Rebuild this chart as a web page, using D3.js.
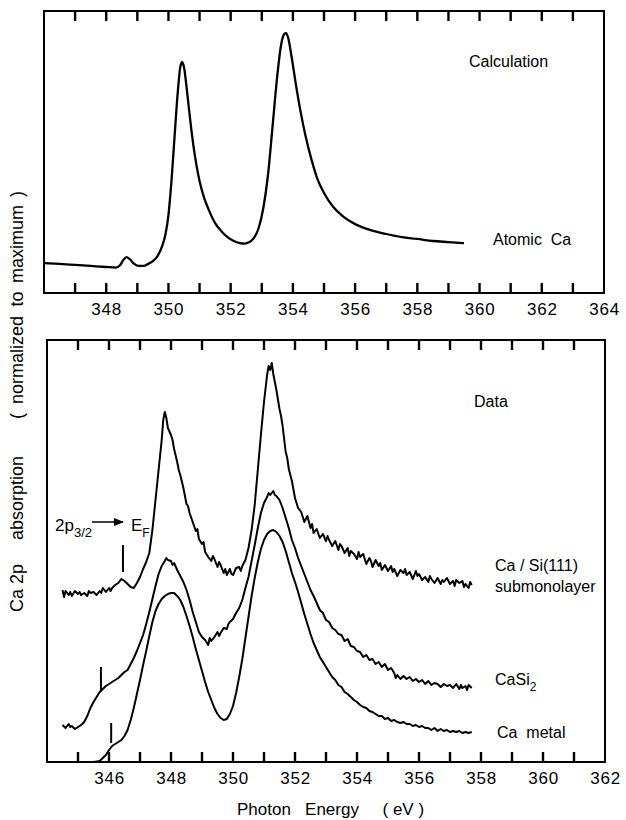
<!DOCTYPE html>
<html>
<head>
<meta charset="utf-8">
<script src="https://cdn.jsdelivr.net/npm/d3@7"></script>
<style>
  body { margin: 0; background: #fff; }
  svg { font-family: "Liberation Sans", Arial, Helvetica, sans-serif; }
  text { white-space: pre; }
</style>
</head>
<body>
<svg width="626" height="820"></svg>
<script>
// Calculation, atomic Ca (normalized to maximum = 100)
const calcCurve = [
  [346.0, 11.5], [346.5, 11.2], [347.0, 10.8], [347.5, 10.4], [348.0, 10.0], [348.3, 9.8],
  [348.45, 10.8], [348.55, 12.7], [348.65, 13.8], [348.75, 13.1], [348.9, 11.2], [349.05, 10.4],
  [349.2, 10.4], [349.35, 11.2], [349.5, 12.3], [349.65, 14.2], [349.8, 18.1], [349.9, 22.3],
  [350.0, 30.0], [350.1, 43.5], [350.2, 60.8], [350.3, 77.3], [350.38, 86.9], [350.44, 88.8],
  [350.5, 86.9], [350.6, 77.3], [350.7, 66.5], [350.8, 56.9], [350.9, 49.2], [351.0, 43.1],
  [351.15, 36.5], [351.3, 31.9], [351.5, 26.9], [351.7, 23.8], [351.9, 21.5], [352.1, 20.0],
  [352.3, 19.2], [352.45, 19.0], [352.6, 19.6], [352.75, 21.2], [352.9, 25.0], [353.05, 32.7],
  [353.2, 45.4], [353.35, 64.6], [353.5, 83.8], [353.62, 95.4], [353.72, 99.6], [353.78, 100],
  [353.85, 98.1], [353.95, 91.5], [354.1, 80.0], [354.25, 69.6], [354.4, 60.8], [354.6, 51.2],
  [354.8, 43.5], [355.0, 38.5], [355.3, 33.1], [355.6, 29.6], [356.0, 26.5], [356.5, 24.2],
  [357.0, 22.7], [357.5, 21.5], [358.0, 20.8], [358.5, 20.0], [359.0, 19.6], [359.5, 19.2]
];

// Data: Ca / Si(111) submonolayer
const caSiSub = [
  [344.5, 43.0], [344.55, 41.25], [344.6, 42.75], [344.7, 41.75], [344.75, 42.5], [344.8, 41.5],
  [344.9, 42.75], [345.0, 42.0], [345.05, 42.5], [345.1, 41.75], [345.2, 42.25], [345.3, 41.5],
  [345.35, 42.75], [345.4, 42.25], [345.5, 42.5], [345.6, 41.75], [345.7, 42.75], [345.75, 42.25],
  [345.8, 43.5], [345.9, 42.5], [346.0, 43.5], [346.05, 42.75], [346.1, 43.5], [346.2, 44.25],
  [346.3, 44.75], [346.4, 45.75], [346.5, 45.25], [346.6, 44.5], [346.7, 43.75], [346.8, 43.5],
  [346.9, 44.75], [347.0, 46.25], [347.1, 48.25], [347.2, 50.0], [347.3, 52.25], [347.4, 58.0],
  [347.5, 65.5], [347.6, 73.0], [347.7, 80.5], [347.75, 85.5], [347.8, 87.5], [347.85, 86.0],
  [347.9, 83.5], [348.0, 81.75], [348.05, 80.5], [348.1, 78.25], [348.2, 75.0], [348.25, 73.0],
  [348.3, 71.75], [348.4, 68.5], [348.5, 64.5], [348.55, 64.0], [348.6, 62.25], [348.7, 60.0],
  [348.8, 57.75], [348.85, 58.25], [348.9, 55.75], [349.0, 54.5], [349.05, 55.0], [349.1, 52.5],
  [349.2, 51.25], [349.3, 50.25], [349.35, 51.5], [349.4, 50.75], [349.5, 48.75], [349.55, 50.0],
  [349.6, 49.25], [349.7, 47.25], [349.75, 48.25], [349.8, 46.75], [349.9, 48.25], [349.95, 47.0],
  [350.0, 46.75], [350.1, 48.5], [350.2, 48.75], [350.25, 47.75], [350.3, 49.0], [350.4, 50.5],
  [350.5, 53.5], [350.6, 58.0], [350.7, 64.25], [350.8, 73.0], [350.9, 81.75], [351.0, 90.0],
  [351.1, 96.75], [351.15, 99.0], [351.2, 98.0], [351.25, 99.75], [351.3, 97.0], [351.4, 93.0],
  [351.5, 88.25], [351.55, 86.5], [351.6, 84.0], [351.7, 77.5], [351.75, 76.0], [351.8, 73.25],
  [351.9, 70.25], [352.0, 66.0], [352.1, 63.5], [352.2, 62.5], [352.3, 60.0], [352.4, 61.5],
  [352.5, 58.5], [352.55, 59.5], [352.6, 57.25], [352.7, 58.25], [352.8, 56.0], [352.9, 57.0],
  [353.0, 55.25], [353.05, 56.5], [353.1, 55.5], [353.2, 54.0], [353.3, 55.25], [353.4, 53.0],
  [353.45, 54.5], [353.5, 54.0], [353.6, 52.25], [353.7, 53.5], [353.75, 51.5], [353.8, 52.75],
  [353.9, 52.0], [354.0, 50.75], [354.05, 52.5], [354.1, 51.25], [354.2, 52.0], [354.3, 49.5],
  [354.4, 51.0], [354.45, 50.25], [354.5, 48.75], [354.6, 50.5], [354.7, 49.0], [354.75, 49.75],
  [354.8, 48.0], [354.9, 49.25], [355.0, 47.75], [355.1, 49.0], [355.15, 47.5], [355.2, 48.25],
  [355.3, 46.5], [355.4, 48.0], [355.5, 47.25], [355.55, 48.25], [355.6, 46.75], [355.7, 47.5],
  [355.8, 45.75], [355.9, 47.75], [355.95, 46.5], [356.0, 47.0], [356.1, 45.5], [356.2, 46.25],
  [356.3, 45.0], [356.35, 46.5], [356.4, 45.75], [356.5, 44.75], [356.6, 46.0], [356.7, 44.5],
  [356.75, 45.5], [356.8, 45.0], [356.9, 46.0], [357.0, 44.5], [357.1, 45.25], [357.15, 44.0],
  [357.2, 45.5], [357.3, 44.75], [357.4, 45.25], [357.45, 43.75], [357.5, 44.5], [357.6, 43.5],
  [357.65, 45.0], [357.7, 44.25]
];

// Data: CaSi2
const caSi2 = [
  [344.5, 9.25], [344.6, 8.5], [344.7, 9.5], [344.75, 8.75], [344.8, 9.0], [344.9, 8.25],
  [345.0, 8.75], [345.1, 9.25], [345.2, 10.0], [345.3, 11.5], [345.4, 13.5], [345.5, 15.0],
  [345.6, 16.25], [345.7, 17.5], [345.8, 18.25], [345.9, 19.0], [346.0, 19.5], [346.1, 20.0],
  [346.2, 20.5], [346.3, 21.0], [346.4, 21.75], [346.5, 22.5], [346.6, 23.0], [346.7, 24.5],
  [346.8, 26.0], [346.9, 27.75], [347.0, 29.75], [347.1, 31.75], [347.2, 34.5], [347.3, 37.5],
  [347.4, 40.75], [347.5, 44.0], [347.6, 47.0], [347.7, 49.0], [347.8, 50.25], [347.85, 51.0],
  [347.9, 50.5], [348.0, 50.25], [348.05, 49.25], [348.1, 49.75], [348.2, 48.0], [348.3, 46.5],
  [348.4, 45.0], [348.5, 43.0], [348.6, 40.5], [348.7, 37.5], [348.8, 35.0], [348.9, 32.5],
  [349.0, 31.25], [349.1, 30.5], [349.2, 29.25], [349.25, 31.0], [349.3, 30.25], [349.4, 31.25],
  [349.5, 32.5], [349.55, 31.5], [349.6, 32.25], [349.7, 33.5], [349.8, 33.25], [349.85, 34.5],
  [349.9, 35.0], [350.0, 35.75], [350.1, 37.25], [350.2, 38.5], [350.3, 40.5], [350.4, 43.5],
  [350.5, 46.25], [350.6, 50.25], [350.7, 54.25], [350.8, 58.5], [350.9, 62.25], [351.0, 64.75],
  [351.1, 66.25], [351.15, 67.25], [351.2, 66.75], [351.3, 67.75], [351.35, 66.75], [351.4, 66.5],
  [351.5, 65.5], [351.6, 63.5], [351.7, 61.0], [351.8, 58.5], [351.9, 55.5], [352.0, 53.5],
  [352.1, 51.0], [352.2, 49.0], [352.3, 47.0], [352.4, 45.0], [352.5, 43.0], [352.6, 41.5],
  [352.7, 39.75], [352.8, 38.0], [352.9, 37.25], [353.0, 35.5], [353.1, 35.0], [353.2, 33.5],
  [353.3, 33.0], [353.4, 32.0], [353.5, 31.75], [353.6, 30.25], [353.7, 30.75], [353.8, 29.0],
  [353.9, 28.75], [354.0, 27.75], [354.1, 27.5], [354.2, 26.25], [354.3, 26.75], [354.4, 25.5],
  [354.5, 25.75], [354.6, 24.5], [354.7, 25.0], [354.8, 23.75], [354.9, 24.5], [355.0, 23.0],
  [355.1, 23.5], [355.2, 22.25], [355.25, 21.0], [355.3, 21.75], [355.4, 20.75], [355.5, 21.5],
  [355.6, 20.75], [355.7, 21.25], [355.8, 20.25], [355.9, 20.75], [356.0, 20.0], [356.1, 20.5],
  [356.2, 19.5], [356.3, 20.25], [356.4, 19.25], [356.5, 19.75], [356.6, 19.5], [356.7, 18.75],
  [356.8, 19.5], [356.9, 19.0], [357.0, 19.25], [357.1, 18.5], [357.2, 19.5], [357.3, 18.25],
  [357.35, 19.25], [357.4, 18.5], [357.5, 19.0], [357.55, 18.0], [357.6, 19.25], [357.7, 18.5]
];

// Data: Ca metal
const caMetal = [
  [344.5, 0], [345.0, 0], [345.5, 0], [345.7, 0.25], [345.8, 1.0], [345.9, 1.75],
  [346.0, 3.0], [346.1, 4.0], [346.2, 4.5], [346.3, 5.0], [346.4, 5.5], [346.5, 6.5],
  [346.6, 8.0], [346.7, 10.5], [346.8, 13.5], [346.9, 17.0], [347.0, 20.5], [347.1, 24.25],
  [347.2, 27.75], [347.3, 31.5], [347.4, 35.0], [347.5, 37.75], [347.6, 39.5], [347.7, 40.75],
  [347.8, 41.5], [347.9, 42.0], [348.0, 42.25], [348.1, 42.25], [348.2, 41.5], [348.3, 40.5],
  [348.4, 38.75], [348.5, 36.5], [348.6, 34.0], [348.7, 31.25], [348.8, 28.25], [348.9, 25.5],
  [349.0, 22.75], [349.1, 20.0], [349.2, 17.5], [349.3, 15.5], [349.4, 13.5], [349.5, 12.0],
  [349.6, 11.0], [349.7, 10.5], [349.8, 10.75], [349.9, 12.0], [350.0, 14.0], [350.1, 17.25],
  [350.2, 21.25], [350.3, 25.75], [350.4, 31.0], [350.5, 36.25], [350.6, 41.5], [350.7, 46.0],
  [350.8, 50.0], [350.9, 53.25], [351.0, 55.5], [351.1, 57.0], [351.2, 57.75], [351.3, 58.0],
  [351.4, 57.5], [351.5, 56.5], [351.6, 55.0], [351.7, 52.75], [351.8, 50.0], [351.9, 47.25],
  [352.0, 45.0], [352.1, 42.5], [352.2, 39.75], [352.3, 37.0], [352.4, 34.5], [352.5, 32.0],
  [352.6, 29.75], [352.7, 28.0], [352.8, 26.25], [352.9, 25.0], [353.0, 23.75], [353.1, 22.5],
  [353.2, 21.25], [353.3, 20.5], [353.4, 19.25], [353.5, 18.75], [353.6, 17.5], [353.7, 17.0],
  [353.8, 16.25], [353.9, 15.5], [354.0, 15.0], [354.1, 14.25], [354.2, 13.75], [354.3, 13.5],
  [354.4, 12.75], [354.5, 12.5], [354.6, 12.0], [354.7, 11.5], [354.8, 11.5], [354.9, 10.75],
  [355.0, 11.0], [355.1, 10.25], [355.2, 10.5], [355.3, 10.0], [355.4, 9.75], [355.5, 10.0],
  [355.6, 9.5], [355.7, 9.5], [355.8, 9.0], [355.9, 9.25], [356.0, 8.75], [356.1, 9.0],
  [356.2, 8.5], [356.3, 8.5], [356.4, 8.0], [356.5, 8.5], [356.6, 7.75], [356.7, 8.25],
  [356.8, 7.75], [356.9, 8.0], [357.0, 7.5], [357.1, 7.75], [357.2, 7.5], [357.3, 7.75],
  [357.4, 7.25], [357.5, 7.5], [357.6, 7.25], [357.7, 7.5]
];

// edge markers (energy, value from, value to)
const edgeMarks = [
  [346.45, 47.5, 54.25],
  [345.74, 17.5, 23.75],
  [346.07, 4.75, 9.75]
];

const calcTickVals = [347, 348, 349, 350, 351, 352, 353, 354, 355, 356, 357, 358, 359, 360, 361, 362, 363];
const calcLabelVals = [348, 350, 352, 354, 356, 358, 360, 362, 364];
const dataTickVals = [345, 346, 347, 348, 349, 350, 351, 352, 353, 354, 355, 356, 357, 358, 359, 360, 361];
const dataLabelVals = [346, 348, 350, 352, 354, 356, 358, 360, 362];

const svg = d3.select("svg");

// panel geometry
const panelTop = { left: 44, right: 604, top: 11, bottom: 293 };
const panelBot = { left: 47, right: 605, top: 340, bottom: 762 };

const xTop = d3.scaleLinear().domain([346, 364]).range([panelTop.left, panelTop.right]);
const yTop = d3.scaleLinear().domain([0, 108.5]).range([panelTop.bottom, panelTop.top]);
const xBot = d3.scaleLinear().domain([344, 362]).range([panelBot.left, panelBot.right]);
const yBot = d3.scaleLinear().domain([0, 105.5]).range([panelBot.bottom, panelBot.top]);

// frames
svg.selectAll(".frame")
  .data([panelTop, panelBot])
  .enter()
  .append("rect")
  .attr("class", "frame")
  .attr("x", d => d.left)
  .attr("y", d => d.top)
  .attr("width", d => d.right - d.left)
  .attr("height", d => d.bottom - d.top)
  .attr("fill", "none")
  .attr("stroke", "#000")
  .attr("stroke-width", 2);

// tick labels
function labelAxis(p, x, vals) {
  svg.append("g")
    .attr("transform", "translate(0," + p.bottom + ")")
    .call(d3.axisBottom(x).tickValues(vals).tickSize(0).tickPadding(10).tickFormat(d3.format("d")))
    .call(g => g.select(".domain").remove())
    .selectAll("text")
    .attr("font-size", 17)
    .attr("letter-spacing", 0.8)
    .attr("font-family", "Liberation Sans, Arial, sans-serif")
    .attr("fill", "#000");
}
labelAxis(panelTop, xTop, calcLabelVals);
labelAxis(panelBot, xBot, dataLabelVals);

const lineTop = d3.line()
  .x(d => xTop(d[0]))
  .y(d => yTop(d[1]))
  .curve(d3.curveMonotoneX);

const lineBot = d3.line()
  .x(d => xBot(d[0]))
  .y(d => yBot(d[1]));

svg.append("path")
  .datum(calcCurve)
  .attr("d", lineTop)
  .attr("fill", "none")
  .attr("stroke", "#000")
  .attr("stroke-width", 2.3);

svg.selectAll(".spec")
  .data([caSiSub, caSi2, caMetal])
  .enter()
  .append("path")
  .attr("class", "spec")
  .attr("d", lineBot)
  .attr("fill", "none")
  .attr("stroke", "#000")
  .attr("stroke-width", 2)
  .attr("stroke-linejoin", "round");

svg.selectAll(".mark")
  .data(edgeMarks)
  .enter()
  .append("line")
  .attr("class", "mark")
  .attr("x1", d => xBot(d[0]))
  .attr("x2", d => xBot(d[0]))
  .attr("y1", d => yBot(d[1]))
  .attr("y2", d => yBot(d[2]))
  .attr("stroke", "#000")
  .attr("stroke-width", 2);

// inward tick marks on both horizontal edges of both panels, drawn last
const tickSpecs = [];
calcTickVals.forEach(v => {
  tickSpecs.push({ x: xTop(v), y: panelTop.bottom, dir: -1 });
  tickSpecs.push({ x: xTop(v), y: panelTop.top, dir: 1 });
});
dataTickVals.forEach(v => {
  tickSpecs.push({ x: xBot(v), y: panelBot.bottom, dir: -1 });
  tickSpecs.push({ x: xBot(v), y: panelBot.top, dir: 1 });
});

svg.selectAll(".tk")
  .data(tickSpecs)
  .enter()
  .append("line")
  .attr("class", "tk")
  .attr("x1", d => d.x)
  .attr("x2", d => d.x)
  .attr("y1", d => d.y)
  .attr("y2", d => d.y + d.dir * 10)
  .attr("stroke", "#000")
  .attr("stroke-width", 2.4);

// labels
function label(x, y, txt, size) {
  return svg.append("text")
    .attr("x", x)
    .attr("y", y)
    .attr("font-size", size || 16)
    .text(txt);
}

label(469, 67, "Calculation");
label(493, 245, "Atomic  Ca");
label(474, 407, "Data");
label(495, 571, "Ca / Si(111)");
label(495, 592, "submonolayer");
const casi = label(495, 685, "CaSi");
casi.append("tspan").attr("font-size", 12).attr("dy", 6).text("2");
label(497, 738, "Ca  metal");

// 2p3/2 -> EF annotation
const ann = label(55, 531, "2p", 17);
ann.append("tspan").attr("font-size", 13).attr("dy", 6).text("3/2");
svg.append("defs").append("marker")
  .attr("id", "arr")
  .attr("viewBox", "0 0 10 10")
  .attr("refX", 9).attr("refY", 5)
  .attr("markerWidth", 7).attr("markerHeight", 7)
  .attr("orient", "auto")
  .append("path")
  .attr("d", "M0,1 L10,5 L0,9 Z");
svg.append("line")
  .attr("x1", 92).attr("x2", 123)
  .attr("y1", 522).attr("y2", 522)
  .attr("stroke", "#000")
  .attr("stroke-width", 1.5)
  .attr("marker-end", "url(#arr)");
const ef = label(131, 531, "E", 17);
ef.append("tspan").attr("font-size", 12).attr("dy", 6).text("F");

// y title, one word group at a time along the rotated axis
const yTitle = svg.append("text")
  .attr("transform", "translate(23,0) rotate(-90)")
  .attr("font-size", 18)
  .attr("text-anchor", "middle");
yTitle.append("tspan").attr("x", -588).text("Ca 2p");
yTitle.append("tspan").attr("x", -498).text("absorption");
yTitle.append("tspan").attr("x", -416).text("(");
yTitle.append("tspan").attr("x", -360).text("normalized");
yTitle.append("tspan").attr("x", -299).text("to");
yTitle.append("tspan").attr("x", -244).text("maximum");
yTitle.append("tspan").attr("x", -194).text(")");

svg.append("text")
  .attr("x", 237)
  .attr("y", 815)
  .attr("font-size", 17)
  .text("Photon   Energy     ( eV )");
</script>
</body>
</html>
